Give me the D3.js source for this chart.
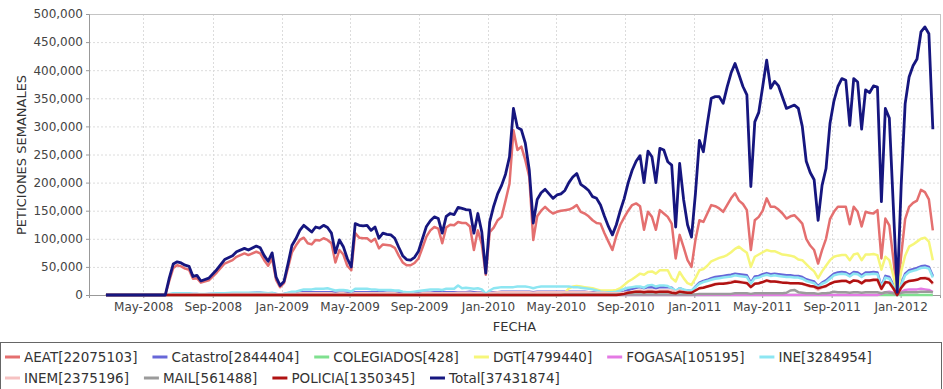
<!DOCTYPE html>
<html lang="es">
<head>
<meta charset="UTF-8">
<title>Peticiones semanales</title>
<script src="https://d3js.org/d3.v7.min.js"></script>
<style>
  body { margin: 0; background: #fff; font-family: "DejaVu Sans", sans-serif; }
  svg { display: block; }
  .axis text { fill: #444; font-size: 12px; font-family: "DejaVu Sans", sans-serif; }
  .axis path, .axis line { stroke: #999; }
  .grid line { stroke: #dcdcdc; stroke-dasharray: 2,2; }
  .legend text { fill: #333; font-size: 13.5px; }
</style>
</head>
<body>
<svg id="chart" width="943" height="389"></svg>
<script>
// weekly dates (Mondays); values are requests per week in thousands
const weeks = [
  "2008-02-25","2008-06-09","2008-06-16","2008-06-23","2008-06-30","2008-07-07","2008-07-14","2008-07-21","2008-07-28","2008-08-04",
  "2008-08-11","2008-08-25","2008-09-08","2008-09-22","2008-10-06","2008-10-13","2008-10-27","2008-11-03","2008-11-17","2008-11-24",
  "2008-12-01","2008-12-08","2008-12-15","2008-12-22","2008-12-29",
  "2009-01-05","2009-01-12","2009-01-19","2009-01-26","2009-02-02","2009-02-09","2009-02-16","2009-02-23","2009-03-02","2009-03-09",
  "2009-03-16","2009-03-23","2009-03-30","2009-04-06","2009-04-13","2009-04-20","2009-04-27","2009-05-04","2009-05-11","2009-05-18",
  "2009-05-25","2009-06-01","2009-06-08","2009-06-15","2009-06-22","2009-06-29","2009-07-06","2009-07-13","2009-07-20","2009-07-27",
  "2009-08-03","2009-08-10","2009-08-17","2009-08-24","2009-08-31","2009-09-07","2009-09-14","2009-09-21","2009-09-28","2009-10-05",
  "2009-10-12","2009-10-19","2009-10-26","2009-11-02","2009-11-09","2009-11-16","2009-11-23","2009-11-30","2009-12-07","2009-12-14",
  "2009-12-21","2009-12-28",
  "2010-01-04","2010-01-11","2010-01-18","2010-01-25","2010-02-01","2010-02-08","2010-02-15","2010-02-22","2010-03-01","2010-03-08",
  "2010-03-15","2010-03-22","2010-03-29","2010-04-05","2010-04-12","2010-04-19","2010-04-26","2010-05-03","2010-05-10","2010-05-17",
  "2010-05-24","2010-05-31","2010-06-07","2010-06-14","2010-06-21","2010-06-28","2010-07-05","2010-07-12","2010-07-19","2010-07-26",
  "2010-08-02","2010-08-09","2010-08-16","2010-08-23","2010-08-30","2010-09-06","2010-09-13","2010-09-20","2010-09-27","2010-10-04",
  "2010-10-11","2010-10-18","2010-10-25","2010-11-01","2010-11-08","2010-11-15","2010-11-22","2010-11-29","2010-12-06","2010-12-13",
  "2010-12-20","2010-12-27",
  "2011-01-03","2011-01-10","2011-01-17","2011-01-24","2011-01-31","2011-02-07","2011-02-14","2011-02-21","2011-02-28","2011-03-07",
  "2011-03-14","2011-03-21","2011-03-28","2011-04-04","2011-04-11","2011-04-18","2011-04-25","2011-05-02","2011-05-09","2011-05-16",
  "2011-05-23","2011-05-30","2011-06-06","2011-06-13","2011-06-20","2011-06-27","2011-07-04","2011-07-11","2011-07-18","2011-07-25",
  "2011-08-01","2011-08-08","2011-08-15","2011-08-22","2011-08-29","2011-09-05","2011-09-12","2011-09-19","2011-09-26","2011-10-03",
  "2011-10-10","2011-10-17","2011-10-24","2011-10-31","2011-11-07","2011-11-14","2011-11-21","2011-11-28","2011-12-05","2011-12-12",
  "2011-12-19","2011-12-26",
  "2012-01-02","2012-01-09","2012-01-16","2012-01-23","2012-01-30","2012-02-06","2012-02-13","2012-02-20","2012-02-27"
];

const aeat = [
  0,0,25,48,53,51,47,45,29,30,22,26,40,56,62,68,74,71,77,74,62,52,65,27,14,
  21,48,76,88,98,102,92,90,98,97, 101,98,92,58,80,72,52,44,110,102, 101,101,95,100,83,90,89,88,84,70,
  58,53,53,57,65,84,104,115,121,118, 92,120,125,124,130,128,128,122,80,115, 90,36,
  112,120,133,139,168,198,293,258,264,240, 210,98,140,150,157,150,145,148,150,151, 152,155,160,148,145,140,133,128,127,110,
  95,80,105,125,138,150,160,163,158,116, 148,139,116,151,145,139,127,65,107,85, 62,50,
  98,133,130,145,160,158,154,148,160,172, 181,168,162,151,80,133,139,150,172,157, 157,152,145,136,140,142,135,127,100,88,
  80,56,80,100,135,148,157,157,157,126, 157,148,122,148,146,145,151,65,136,124, 65,3,
  70,135,157,164,168,187,183,170,115
];
const catastro = [
  0,0,1,2,2,2,2,2,2,2,1,2,2,3,3,3,3,3,4,4,3,3,3,2,1,
  2,3,4,4,5,5,5,5,5,5, 5,5,5,4,4,4,4,3,5,5, 5,5,5,5,5,5,4,4,4,4, 3,3,3,3,3,4,4,4,5,5, 5,5,5,5,5,5,5,6,5,5, 4,1,
  4,5,5,6,6,6,6,6,6,6, 6,5,6,6,6,6,6,6,6,6, 6,6,6,6,6,5,5,5,5,4, 4,4,4,4,6,9,11,13,14,12, 14,14,12,14,14,14,13,6,12,9, 8,7,
  15,22,25,27,30,32,33,34,35,36, 38,37,36,35,22,33,34,37,39,37, 38,37,36,35,35,34,34,32,28,26, 24,16,22,26,32,38,40,41,40,36,
  41,40,35,40,40,41,40,15,34,32, 18,0,
  20,38,44,46,48,51,52,50,34
];
const colegiados = [
  0,0,0,0,0,0,0,0,0,0,0,0,0,0,0,0,0,0,0,0,0,0,0,0,0,
  0,0,0,0,0,0,0,0,0,0, 0,0,0,0,0,0,0,0,0,0, 0,0,0,0,0,0,0,0,0,0, 0,0,0,0,0,0,0,0,0,0, 0,0,0,0,0,0,0,0,0,0, 0,0,
  0,0,0,0,0,0,0,0,0,0, 0,0,0,0,0,0,0,0,0,0, 0,0,0,0,0,0,0,0,0,0, 0,0,0,0,0,0,0,0,0,0, 0,0,0,0,0,0,0,0,0,0, 0,0,
  0,0,0,0,0,0,0,0,0,0, 0,0,0,0,0,0,0,0,0,0, 0,0,0,0,0,0,0,0,0,0, 0,0,0,0,0,0,0,0,0,0, 0,0,0,0,0,0,0,0,0,0, 0,0,
  0,0,0,0,0,0,0,0,0
];
const dgt = [
  0,0,0,0,0,0,0,0,0,0,0,0,0,0,0,0,0,0,0,0,0,0,0,0,0,
  0,0,0,0,0,0,0,0,0,0, 0,0,0,0,0,0,0,0,0,0, 0,0,0,0,0,0,0,0,0,0, 0,0,0,0,0,0,0,0,0,0, 0,0,0,0,0,0,0,0,0,0, 0,0,
  0,0,0,0,0,0,0,0,0,0, 0,0,0,0,0,0,0,0,0,4, 12,15,16,15,14,13,12,10,8,8, 8,8,9,12,18,24,28,33,38,36, 41,42,38,44,44,44,30,24,41,30, 21,18,
  30,44,46,52,60,63,66,68,71,76, 82,86,80,75,50,68,72,76,80,78, 78,75,72,71,70,68,63,62,55,48, 42,30,42,52,62,68,70,71,71,62,
  72,74,62,72,72,73,71,45,68,62, 35,1,
  42,70,86,90,95,100,102,95,62
];
const fogasa = [
  0,0,0,0,0,0,0,0,0,0,0,0,0,0,0,0,0,0,0,0,0,0,0,0,0,
  0,0,0,0,0,0,0,0,0,0, 0,0,0,0,0,0,0,0,0,0, 0,0,0,0,0,0,0,0,0,0, 0,0,0,0,0,0,0,0,0,0, 0,0,0,0,0,0,0,0,0,0, 0,0,
  0,0,0,0,0,0,0,0,0,0, 0,0,0,0,0,0,0,0,0,0, 0,0,0,0,0,0,0,0,0,0, 0,0,0,0,0,0,0,0,0,0, 0,0,0,0,0,0,0,0,0,0, 0,0,
  0,0,0,0,0,0,0,0,0,0, 0,0,0,0,0,0,0,0,0,0, 0,0,0,0,0,0,0,0,0,0, 0,0,0,0,0,0,0,0,0,0, 0,0,0,0,0,0,0,2,5,6, 4,0,
  5,9,10,10,10,11,10,9,5
];
const ine = [
  0,0,2,3,3,3,3,3,2,2,2,2,3,3,4,4,4,4,4,4,4,3,4,2,1,
  2,4,6,6,8,10,10,10,11,11, 11,12,10,8,9,9,8,6,11,11, 11,11,10,10,9,9,9,9,8,8, 6,5,5,6,7,8,9,10,10,10, 9,11,11,11,17,12,13,12,11,12, 10,2,
  8,12,13,14,14,14,14,15,15,15, 14,12,14,15,15,15,15,15,15,15, 15,14,14,13,12,11,10,8,6,5, 5,5,6,8,11,13,14,15,15,13, 17,18,15,17,17,16,12,8,12,10, 8,8,
  14,20,23,25,27,29,30,31,32,33, 35,34,33,32,20,30,31,34,36,34, 35,34,33,32,32,31,31,29,25,23, 21,14,20,23,29,35,37,38,37,33,
  38,37,32,37,37,38,37,14,31,29, 16,0,
  18,35,41,43,45,48,49,47,31
];
const inem = [
  0,0,1,1,1,1,1,1,1,1,1,1,1,1,2,2,2,2,2,2,2,2,2,1,1,
  1,2,2,2,3,3,3,3,3,3, 3,3,3,2,3,3,2,2,3,3, 3,3,3,3,3,3,3,3,3,2, 2,2,2,2,2,3,3,3,3,3, 3,3,3,3,4,4,4,4,3,4, 3,1,
  3,4,5,5,5,5,5,5,5,5, 5,4,5,5,5,5,5,5,5,5, 5,5,5,5,5,5,4,4,4,4, 3,3,3,3,4,5,6,7,8,7, 8,8,7,8,8,8,8,5,8,6, 5,4,
  8,12,14,15,18,20,20,21,22,24, 25,24,23,22,14,20,21,23,25,23, 24,23,22,21,21,21,21,20,17,15, 14,9,13,15,20,23,25,26,26,21,
  26,25,20,25,25,26,25,10,22,21, 11,0,
  12,20,25,26,27,30,31,30,19
];
const mail = [
  0,0,0,0,0,0,0,0,0,0,0,0,0,0,0,0,0,0,0,0,0,0,0,0,0,
  0,0,0,0,0,0,0,0,0,0, 0,0,0,0,0,0,0,0,0,0, 0,0,0,0,0,0,0,0,0,0, 0,0,0,0,0,0,0,0,0,0, 0,0,0,0,0,0,0,0,0,0, 0,0,
  0,0,0,0,0,0,0,0,0,0, 0,0,0,0,0,0,0,0,0,1, 1,1,1,1,1,1,1,1,1,1, 1,1,1,1,1,1,1,1,1,1, 1,1,1,1,1,1,1,1,1,1, 1,1,
  1,2,2,2,2,2,2,2,2,2, 3,3,3,3,2,3,3,3,3,3, 3,3,3,4,8,9,5,4,3,3, 3,2,3,3,4,6,5,5,5,4,
  5,5,4,5,5,5,5,3,5,4, 3,0,
  4,5,5,5,5,6,6,6,5
];
const policia = [
  0,0,0,0,0,0,0,0,0,0,0,0,0,0,0,0,0,0,0,0,0,0,0,0,0,
  0,0,0,0,0,0,0,0,0,0, 0,0,0,0,0,0,0,0,0,0, 0,0,0,0,0,0,0,0,0,0, 0,0,0,0,0,0,0,0,0,0, 0,0,0,0,0,0,0,0,0,0, 0,0,
  0,0,0,0,0,0,0,0,0,0, 0,0,0,0,0,0,0,0,0,0, 0,0,0,0,0,0,0,0,0,0, 0,0,0,1,2,4,5,6,6,5, 6,6,5,6,6,6,4,3,6,5, 4,4,
  8,12,13,15,17,19,20,20,21,22, 24,23,22,21,14,20,21,23,26,24, 24,23,22,22,21,21,21,20,18,16, 15,12,14,16,20,23,24,25,25,22,
  26,25,21,26,26,27,27,11,23,22, 12,0,
  13,22,25,26,27,30,30,28,21
];
const total = [
  0,0,30,55,59,57,53,51,33,35,25,30,45,63,70,77,83,80,87,84,70,60,75,32,17,
  24,55,88,100,115,124,118,112,121,119, 124,120,110,75,98,86,65,50,127,124, 123,124,115,121,101,110,108,107,101,85,
  70,63,62,67,78,100,122,132,139,136, 110,140,145,143,156,154,152,151,110,145, 112,39,
  130,158,180,195,215,246,332,298,294,270, 222,128,170,182,188,180,172,178,180,186, 200,210,216,197,192,186,175,172,160,140,
  122,107,125,150,172,200,222,238,248,200, 256,246,200,261,258,237,231,121,234,170, 125,103,
  181,275,255,305,350,353,353,341,370,395, 412,392,371,356,193,308,325,371,418,368, 380,372,352,332,335,338,332,300,238,218,
  205,133,195,225,305,345,371,385,382,302, 385,379,295,365,360,372,370,166,332,315, 160,5,
  195,340,388,408,420,468,477,465,295
];

const seriesNames = ["AEAT", "Catastro", "COLEGIADOS", "DGT", "FOGASA", "INE", "INEM", "MAIL", "POLICIA", "Total"];
const seriesTotals = [22075103, 2844404, 428, 4799440, 105195, 3284954, 2375196, 561488, 1350345, 37431874];
const seriesValues = [aeat, catastro, colegiados, dgt, fogasa, ine, inem, mail, policia, total];
const seriesColors = ["#e46f6f", "#6767d8", "#7fe08f", "#f6f67a", "#e47ae4", "#8de6f2", "#f6c2c2", "#9b9b9b", "#b01212", "#16167f"];

const yTicks = [0, 50, 100, 150, 200, 250, 300, 350, 400, 450, 500];

const svg = d3.select("#chart");
const plot = { left: 89, right: 940, top: 14, bottom: 295 };

const parseDate = d3.timeParse("%Y-%m-%d");
const dates = weeks.map(parseDate);

const x = d3.scaleTime()
  .domain([new Date(2008, 0, 26), new Date(2012, 2, 10, 16)])
  .range([plot.left, plot.right]);
const y = d3.scaleLinear()
  .domain([0, 500])
  .range([plot.bottom, plot.top]);

const xTicks = x.ticks(d3.timeMonth.every(4));

// grid
const grid = svg.append("g").attr("class", "grid");
grid.selectAll(".gy").data(yTicks).enter().append("line")
  .attr("x1", plot.left).attr("x2", plot.right)
  .attr("y1", d => y(d) + 0.5).attr("y2", d => y(d) + 0.5);
grid.selectAll(".gx").data(xTicks).enter().append("line")
  .attr("x1", d => Math.round(x(d)) + 0.5).attr("x2", d => Math.round(x(d)) + 0.5)
  .attr("y1", plot.top).attr("y2", plot.bottom);

// plot outline
svg.append("rect")
  .attr("x", plot.left + 0.5).attr("y", plot.top + 0.5)
  .attr("width", plot.right - plot.left).attr("height", plot.bottom - plot.top)
  .attr("fill", "none").attr("stroke", "#c4c4c4");

// axes
svg.append("g")
  .attr("class", "axis")
  .attr("transform", `translate(${plot.left},0)`)
  .call(d3.axisLeft(y).tickValues(yTicks).tickSize(3).tickPadding(3)
    .tickFormat(d => d3.format(",")(d * 1000)));

svg.append("g")
  .attr("class", "axis")
  .attr("transform", `translate(0,${plot.bottom})`)
  .call(d3.axisBottom(x).tickValues(xTicks).tickSize(3).tickPadding(4)
    .tickFormat(d3.timeFormat("%b-%Y")));

// axis titles
svg.append("text")
  .attr("transform", "rotate(-90)")
  .attr("x", -155).attr("y", 26)
  .attr("text-anchor", "middle")
  .attr("font-size", "13px").attr("fill", "#333")
  .text("PETICIONES SEMANALES");

svg.append("text")
  .attr("x", (plot.left + plot.right) / 2).attr("y", 331)
  .attr("text-anchor", "middle")
  .attr("font-size", "13px").attr("fill", "#333")
  .text("FECHA");

// series lines (Total drawn last, on top)
const line = d3.line()
  .x((d, i) => x(dates[i]))
  .y(d => y(d));

seriesValues.forEach((vals, i) => {
  if (vals.length !== dates.length) console.error(seriesNames[i], vals.length, dates.length);
  svg.append("path")
    .datum(vals)
    .attr("fill", "none")
    .attr("stroke", seriesColors[i])
    .attr("stroke-width", i === 9 ? 2.8 : 2.5)
    .attr("stroke-linejoin", "round")
    .attr("d", line);
});

// legend
const legend = svg.append("g").attr("class", "legend");
legend.append("rect")
  .attr("x", 0.5).attr("y", 342.5).attr("width", 941).attr("height", 60)
  .attr("fill", "none").attr("stroke", "#666");

let lx = 5, row = 0;
seriesNames.forEach((name, i) => {
  const g = legend.append("g");
  const label = g.append("text")
    .attr("x", 19).attr("y", 0).attr("dy", "0.35em")
    .text(`${name}[${seriesTotals[i]}]`);
  const w = 19 + label.node().getComputedTextLength();
  if (lx + w > 935) { lx = 5; row++; }
  g.attr("transform", `translate(${lx},${357 + row * 21})`);
  g.append("line")
    .attr("x1", 0).attr("x2", 15).attr("y1", 0).attr("y2", 0)
    .attr("stroke", seriesColors[i]).attr("stroke-width", 3);
  lx += w + 15;
});
</script>
</body>
</html>
